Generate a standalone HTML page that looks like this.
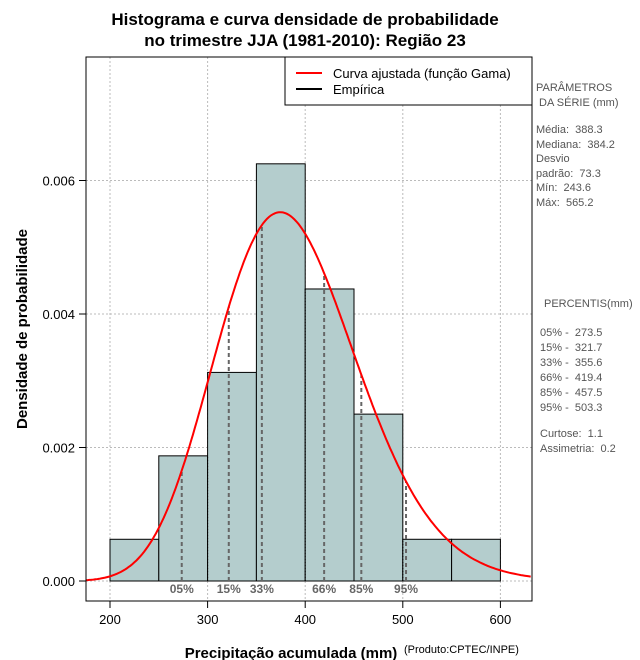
<!DOCTYPE html>
<html><head><meta charset="utf-8"><style>
body{margin:0;background:#fff;}
svg{display:block;font-family:"Liberation Sans",sans-serif;}
#stats text{white-space:pre;}
</style></head><body>
<svg id="chart" width="640" height="660" viewBox="0 0 640 660">
<rect width="640" height="660" fill="#fff"/>
<text x="305" y="25" text-anchor="middle" font-size="17" font-weight="bold">Histograma e curva densidade de probabilidade</text>
<text x="305" y="46" text-anchor="middle" font-size="17" font-weight="bold">no trimestre JJA (1981-2010): Região 23</text>
<g id="grid"></g>
<g id="bars"></g>
<g id="grid2"></g>
<g id="pct"></g>
<path id="curve" fill="none" stroke="#f00" stroke-width="2"/>
<rect x="86" y="57" width="446" height="544" fill="none" stroke="#000"/>
<g id="axes"></g>
<text x="291" y="658" text-anchor="middle" font-size="15" font-weight="bold">Precipitação acumulada (mm)</text>
<text x="404" y="653" font-size="11">(Produto:CPTEC/INPE)</text>
<text transform="translate(27,329) rotate(-90)" text-anchor="middle" font-size="15" font-weight="bold">Densidade de probabilidade</text>
<g>
<rect x="285" y="57" width="247" height="48" fill="#fff" stroke="#000"/>
<line x1="296" y1="73" x2="322" y2="73" stroke="#f00" stroke-width="2"/>
<text x="333" y="78" font-size="13">Curva ajustada (função Gama)</text>
<line x1="296" y1="89" x2="322" y2="89" stroke="#000" stroke-width="2"/>
<text x="333" y="94" font-size="13">Empírica</text>
</g>
<g id="stats" font-size="11" fill="#555">
<text x="536" y="91">PARÂMETROS</text><text x="536" y="106"> DA SÉRIE (mm)</text>
<text x="536" y="133">Média:  388.3</text><text x="536" y="148">Mediana:  384.2</text>
<text x="536" y="162">Desvio</text><text x="536" y="177">padrão:  73.3</text>
<text x="536" y="191">Mín:  243.6</text><text x="536" y="206">Máx:  565.2</text>
<text x="544" y="307">PERCENTIS(mm)</text>
<text x="540" y="336">05% -  273.5</text><text x="540" y="351">15% -  321.7</text>
<text x="540" y="366">33% -  355.6</text><text x="540" y="381">66% -  419.4</text>
<text x="540" y="396">85% -  457.5</text><text x="540" y="411">95% -  503.3</text>
<text x="540" y="437">Curtose:  1.1</text><text x="540" y="452">Assimetria:  0.2</text>
</g>
</svg>
<script>
const binStarts=[200,250,300,350,400,450,500,550];
const densities=[0.000625,0.001875,0.003125,0.00625,0.004375,0.0025,0.000625,0.000625];
const binWidth=50;
const xTicks=[200,300,400,500,600];
const yTicks=[0,0.002,0.004,0.006];
const yTickLabels=["0.000","0.002","0.004","0.006"];
const pctValues=[273.5,321.7,355.6,419.4,457.5,503.3];
const pctLabels=["05%","15%","33%","66%","85%","95%"];
const gammaMean=388.3, gammaSd=73.3;
const NS="http://www.w3.org/2000/svg";
const X=v=>110+(v-200)*0.976;
const Y=v=>581-v*66750;
function mk(t,a,p){const e=document.createElementNS(NS,t);for(const k in a)e.setAttribute(k,a[k]);p.appendChild(e);return e;}
const k=(gammaMean/gammaSd)**2, th=gammaSd*gammaSd/gammaMean;
function lgamma(z){const g=7,c=[0.99999999999980993,676.5203681218851,-1259.1392167224028,771.32342877765313,-176.61502916214059,12.507343278686905,-0.13857109526572012,9.9843695780195716e-6,1.5056327351493116e-7];z-=1;let x=c[0];for(let i=1;i<g+2;i++)x+=c[i]/(z+i);const t=z+g+0.5;return 0.5*Math.log(2*Math.PI)+(z+0.5)*Math.log(t)-t+Math.log(x);}
const pdf=x=>Math.exp((k-1)*Math.log(x)-x/th-lgamma(k)-k*Math.log(th));
const grid=document.getElementById('grid'),grid2=document.getElementById('grid2');
xTicks.forEach(v=>{const l=mk('line',{x1:X(v),x2:X(v),y1:57,y2:601,stroke:'#bbb','stroke-dasharray':'2,2'},grid);
});
yTicks.forEach(v=>{const l=mk('line',{x1:86,x2:532,y1:Y(v),y2:Y(v),stroke:'#bbb','stroke-dasharray':'2,2'},grid);
});
const bars=document.getElementById('bars');
binStarts.forEach((s,i)=>{const r=mk('rect',{x:X(s),y:Y(densities[i]),width:X(s+binWidth)-X(s),height:Y(0)-Y(densities[i]),fill:'#b4cdcd',stroke:'#000'},bars);
});
xTicks.slice(1,4).forEach(v=>{const l=mk('line',{x1:X(v),x2:X(v),y1:Y(0),y2:Y(Math.min(...densities.filter((d,i)=>binStarts[i]<=v&&binStarts[i]+binWidth>=v))),stroke:'#000','stroke-dasharray':'1,2'},grid2);
});
const zl=mk('line',{x1:X(200),x2:X(600),y1:Y(0),y2:Y(0),stroke:'#000','stroke-dasharray':'1,2'},grid2);

const pg=document.getElementById('pct');
pctValues.forEach((v,i)=>{const l=mk('line',{x1:X(v),x2:X(v),y1:Y(0),y2:Y(pdf(v)),stroke:'#666','stroke-width':2,'stroke-dasharray':'4,3'},pg);

const t=mk('text',{x:X(v),y:Y(0)+12,'text-anchor':'middle','font-size':12,'font-weight':'bold',fill:'#666'},pg);t.textContent=pctLabels[i];
});
let d='';for(let x=175;x<=632;x+=2){d+=(d?'L':'M')+X(x).toFixed(1)+','+Y(pdf(x)).toFixed(1);}
document.getElementById('curve').setAttribute('d',d);
const ax=document.getElementById('axes');
xTicks.forEach(v=>{mk('line',{x1:X(v),x2:X(v),y1:601,y2:608,stroke:'#000'},ax);
const t=mk('text',{x:X(v),y:624,'text-anchor':'middle','font-size':13},ax);t.textContent=v;
});
yTicks.forEach((v,i)=>{mk('line',{x1:79,x2:86,y1:Y(v),y2:Y(v),stroke:'#000'},ax);
const t=mk('text',{x:75,y:Y(v)+5,'text-anchor':'end','font-size':13},ax);t.textContent=yTickLabels[i];
});
</script>
</body></html>
